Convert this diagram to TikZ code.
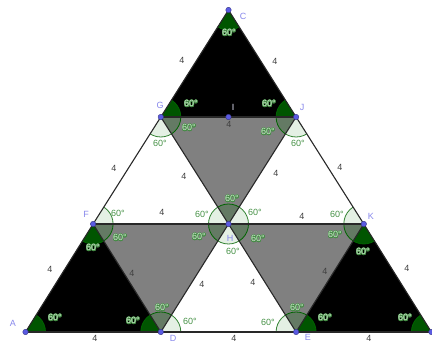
\documentclass[tikz,border=0pt]{standalone}
\usepackage{fontspec}
\setmainfont{Liberation Sans}
\usepackage{contour}
\usetikzlibrary{calc}
\contourlength{0.45pt}
\definecolor{ggreen}{RGB}{0,100,0}
\definecolor{labgreen}{RGB}{70,145,70}
\definecolor{palegreen}{RGB}{205,232,205}
\definecolor{halo}{RGB}{70,140,70}
\definecolor{ptblue}{RGB}{90,90,225}
\definecolor{lblblue}{RGB}{135,135,235}
\definecolor{ggray}{RGB}{128,128,128}
\definecolor{edgecol}{RGB}{40,40,40}
\definecolor{secblack}{RGB}{0,85,0}
\definecolor{secgray}{RGB}{100,122,100}
\definecolor{secwhite}{RGB}{228,240,228}
\newcommand\dk{\contour{halo}{\textcolor{palegreen}{60°}}}
\newcommand\angsec[5]{\begin{scope}\clip (#1)--(#2)--(#3)--cycle;\filldraw[#5] (#4) circle (20pt);\end{scope}}
\begin{document}
\begin{tikzpicture}[x=1pt,y=-1pt,
  lab/.style={font=\fontsize{9}{10}\selectfont,inner sep=0pt},
  wlab/.style={lab,text=labgreen},
  dlab/.style={lab},
  slab/.style={lab,text=black!75},
  vlab/.style={lab,text=lblblue},
  edge/.style={draw=edgecol,line width=1.1pt},
  sb/.style={fill=secblack,draw=ggreen,line width=0.8pt},
  sg/.style={fill=secgray,draw=ggreen,line width=0.8pt},
  sw/.style={fill=secwhite,draw=ggreen!80!white,line width=0.8pt},
  dot/.style={circle,fill=ptblue,draw=ptblue!60!black,line width=0.4pt,inner sep=0pt,minimum size=5.5pt}]
\useasboundingbox (0,0) rectangle (432,344);
% points
\coordinate (A) at (25.5,332);
\coordinate (D) at (160.8,332);
\coordinate (E) at (296.1,332);
\coordinate (R) at (431.4,332);
\coordinate (F) at (93.1,224);
\coordinate (H) at (228.5,224);
\coordinate (K) at (363.8,224);
\coordinate (G) at (160.8,117);
\coordinate (J) at (296.1,117);
\coordinate (C) at (228.5,10);
\coordinate (I) at ($(G)!0.5!(J)$);
% fills
\fill[black] (C)--(G)--(J)--cycle;
\fill[black] (F)--(A)--(D)--cycle;
\fill[black] (K)--(E)--(R)--cycle;
\fill[ggray] (G)--(J)--(H)--cycle;
\fill[ggray] (F)--(H)--(D)--cycle;
\fill[ggray] (H)--(K)--(E)--cycle;
% sectors black
\angsec{C}{G}{J}{C}{sb}\angsec{C}{G}{J}{G}{sb}\angsec{C}{G}{J}{J}{sb}
\angsec{F}{A}{D}{F}{sb}\angsec{F}{A}{D}{A}{sb}\angsec{F}{A}{D}{D}{sb}
\angsec{K}{E}{R}{K}{sb}\angsec{K}{E}{R}{E}{sb}\angsec{K}{E}{R}{R}{sb}
% sectors gray
\angsec{G}{J}{H}{G}{sg}\angsec{G}{J}{H}{J}{sg}\angsec{G}{J}{H}{H}{sg}
\angsec{F}{H}{D}{F}{sg}\angsec{F}{H}{D}{H}{sg}\angsec{F}{H}{D}{D}{sg}
\angsec{H}{K}{E}{H}{sg}\angsec{H}{K}{E}{K}{sg}\angsec{H}{K}{E}{E}{sg}
% sectors white
\angsec{G}{F}{H}{G}{sw}\angsec{G}{F}{H}{F}{sw}\angsec{G}{F}{H}{H}{sw}
\angsec{J}{H}{K}{J}{sw}\angsec{J}{H}{K}{H}{sw}\angsec{J}{H}{K}{K}{sw}
\angsec{H}{D}{E}{H}{sw}\angsec{H}{D}{E}{D}{sw}\angsec{H}{D}{E}{E}{sw}
% edges
\draw[edge] (A)--(D); \draw[edge] (D)--(E); \draw[edge] (E)--(R);
\draw[edge] (R)--(K); \draw[edge] (K)--(J); \draw[edge] (J)--(C);
\draw[edge] (C)--(G); \draw[edge] (G)--(F); \draw[edge] (F)--(A);
\draw[edge] (F)--(H); \draw[edge] (H)--(K); \draw[edge] (G)--(I); \draw[edge] (I)--(J);
\draw[edge] (D)--(H); \draw[edge] (H)--(J); \draw[edge] (F)--(D);
\draw[edge] (G)--(H); \draw[edge] (H)--(E); \draw[edge] (K)--(E);
% angle labels on black
\foreach \p [count=\i] in {(229,33),(191,104),(269,104),(55,318),(133,321),(93,248),(325,318),(405,318),(363,252)}
  \node[dlab] (b\i) at \p {\dk};
% angle labels on gray
\foreach \p [count=\i] in {(189,128),(268,132),(232,199),(120,238),(162,308),(199,237),(258,239),(335,235),(297,308)}
  \node[dlab] (g\i) at \p {\dk};
% angle labels on white
\foreach \p [count=\i] in {(160,143),(118,213),(202,214),(298,143),(255,212),(337,214),(190,321),(268,322),(233,251)}
  \node[wlab] (w\i) at \p {60°};
% side labels
\foreach \p [count=\i] in {(182,60),(275,61),(229,124),(114,168),(184,176),(162,212),(276,173),(340,167),(302,216),(50,269),(132,273),(95,338.5),(202,284),(253,282),(234,338.5),(325,271),(407,268),(369,338.5)}
  \node[slab] (s\i) at \p {4};
% dots
\foreach \v in {A,D,E,R,F,H,K,G,I,J,C}
  \node[dot] (p\v) at (\v) {};
% vertex labels
\node[vlab] (tC) at (243,16) {C};
\node[vlab] (tG) at (160,105) {G};
\node[vlab] (tJ) at (302,107) {J};
\node[vlab] (tF) at (86,214) {F};
\node[vlab] (tH) at (230,238) {H};
\node[vlab] (tK) at (371,216) {K};
\node[vlab] (tA) at (13,323) {A};
\node[vlab] (tD) at (173,338) {D};
\node[vlab] (tE) at (308,337) {E};
\node[vlab,text=white!80!lblblue] (tI) at (233,107) {I};
\end{tikzpicture}
\end{document}
